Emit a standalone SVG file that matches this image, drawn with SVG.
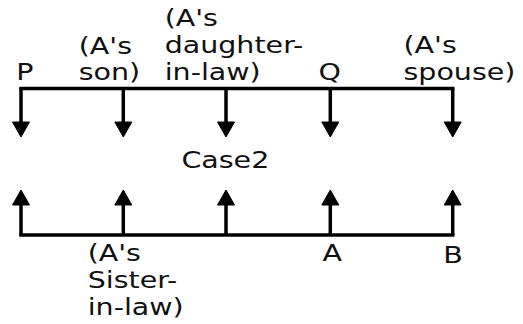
<svg xmlns="http://www.w3.org/2000/svg" width="523" height="324" viewBox="0 0 523 324">
<style>
.t{font-family:"DejaVu Sans","Verdana",sans-serif;font-size:23px;fill:#111}
.ln{stroke:#000;stroke-width:3.5;fill:none}
</style>
<defs>
<marker id="ah" markerUnits="userSpaceOnUse" markerWidth="16" markerHeight="17" refX="0" refY="8.5" orient="auto" overflow="visible">
<path d="M0,0 L15,8.5 L0,17 Z" fill="#000" stroke="#000" stroke-width="1" stroke-linejoin="round"/>
</marker>
</defs>
<rect width="523" height="324" fill="#fff"/>
<g id="connectors">
<line class="ln" x1="21" y1="88.5" x2="452.7" y2="88.5" stroke-linecap="square"/>
<path class="ln" d="M21,88.5 V122" marker-end="url(#ah)"/>
<path class="ln" d="M123.3,88.5 V122" marker-end="url(#ah)"/>
<path class="ln" d="M226,88.5 V122" marker-end="url(#ah)"/>
<path class="ln" d="M330.3,88.5 V122" marker-end="url(#ah)"/>
<path class="ln" d="M452.7,88.5 V122" marker-end="url(#ah)"/>
<line class="ln" x1="21" y1="235" x2="452.7" y2="235" stroke-linecap="square"/>
<path class="ln" d="M21,235 V205" marker-end="url(#ah)"/>
<path class="ln" d="M123.3,235 V205" marker-end="url(#ah)"/>
<path class="ln" d="M226,235 V205" marker-end="url(#ah)"/>
<path class="ln" d="M330.3,235 V205" marker-end="url(#ah)"/>
<path class="ln" d="M452.7,235 V205" marker-end="url(#ah)"/>
</g>
<g transform="scale(1.24 1)">
<g id="node-P"><text class="t" x="13.1" y="80">P</text></g>
<g id="node-son"><text class="t" x="63.5" y="54">(A's</text><text class="t" x="63.5" y="80">son)</text></g>
<g id="node-daughter"><text class="t" x="132.8" y="26">(A's</text><text class="t" x="132.8" y="53">daughter-</text><text class="t" x="132.8" y="80">in-law)</text></g>
<g id="node-Q"><text class="t" x="256.8" y="80">Q</text></g>
<g id="node-spouse"><text class="t" x="325.4" y="53">(A's</text><text class="t" x="325.4" y="80">spouse)</text></g>
<g id="node-case"><text class="t" x="146.3" y="168">Case2</text></g>
<g id="node-sister"><text class="t" x="70.7" y="261">(A's</text><text class="t" x="70.7" y="288">Sister-</text><text class="t" x="70.7" y="315">in-law)</text></g>
<g id="node-A"><text class="t" x="260" y="261">A</text></g>
<g id="node-B"><text class="t" x="357.4" y="263.5">B</text></g>
</g>
</svg>
